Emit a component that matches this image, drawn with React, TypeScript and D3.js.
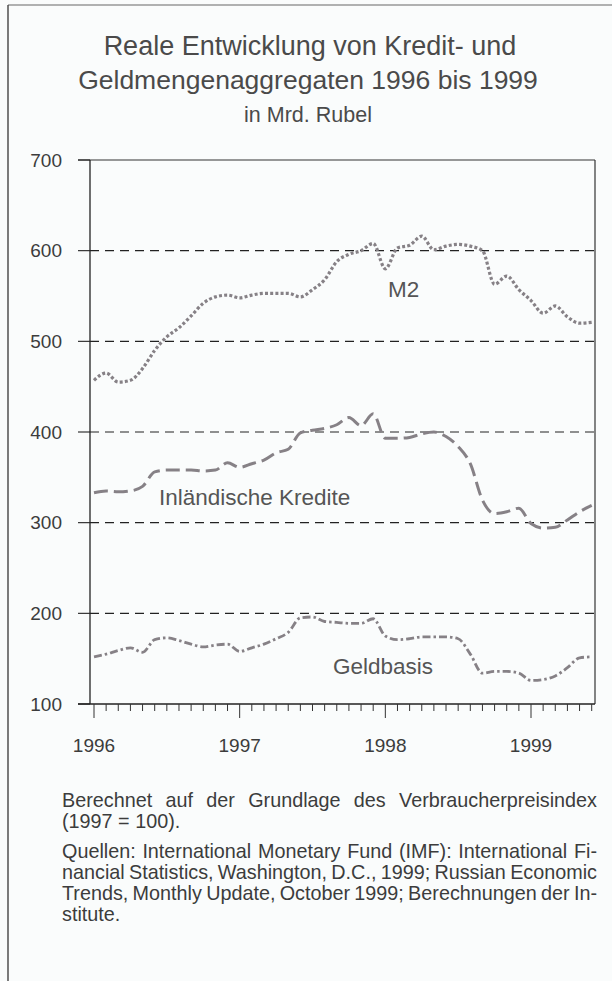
import React from 'react';
import { scaleLinear, line, curveMonotoneX, range } from 'd3';

// monthly values, Jan 1996 .. Jun 1999 (Mrd. Rubel, real)
const months = range(0, 42);
const yearLabels = ['1996', '1997', '1998', '1999'];
const yTicks = [100, 200, 300, 400, 500, 600, 700];
const gridValues = [200, 300, 400, 500, 600];

const m2 = [
  457, 465, 455, 457, 470, 490, 505, 515, 528, 542, 549, 551,
  548, 551, 553, 553, 553, 549, 557, 568, 588, 596, 600, 608,
  580, 603, 606, 616, 601, 605, 607, 605, 600, 563, 572, 557,
  545, 531, 539, 527, 520, 521,
];
const kredite = [
  333, 335, 334, 335, 340, 356, 358, 358, 358, 357, 358, 366,
  361, 365, 369, 377, 381, 399, 402, 404, 408, 416, 407, 420,
  393, 393, 394, 398, 400, 395, 384, 365, 325, 310, 312, 316,
  299, 294, 295, 303, 312, 319,
];
const geldbasis = [
  152, 155, 159, 162, 157, 171, 173, 170, 166, 163, 165, 166,
  158, 162, 166, 172, 179, 195, 196, 191, 190, 189, 189, 194,
  175, 171, 172, 174, 174, 174, 172, 155, 134, 136, 136, 134,
  126, 127, 131, 140, 151, 152,
];

const titleLines = [
  'Reale Entwicklung von Kredit- und',
  'Geldmengenaggregaten 1996 bis 1999',
];
const subtitle = 'in Mrd. Rubel';

const notes = [
  { text: 'Berechnet auf der Grundlage des Verbraucherpreisindex', justify: true },
  { text: '(1997 = 100).', justify: false },
  { text: 'Quellen: International Monetary Fund (IMF): International Fi-', justify: true },
  { text: 'nancial Statistics, Washington, D.C., 1999; Russian Economic', justify: true },
  { text: 'Trends, Monthly Update, October 1999; Berechnungen der In-', justify: true },
  { text: 'stitute.', justify: false },
];
const noteBaselines = [807, 828, 858, 879, 900, 921];

const W = 612;
const H = 981;
const plot = { left: 90, right: 595, top: 160, bottom: 704 };
const font = '"Liberation Sans", Arial, Helvetica, sans-serif';
const textColor = '#3c3c3c';
const seriesColor = '#868186';

const x = scaleLinear().domain([0, 36]).range([94, 531]);
const y = scaleLinear().domain([100, 700]).range([plot.bottom, plot.top]);

const path = line<number>()
  .x((d, i) => x(i))
  .y(d => y(d))
  .curve(curveMonotoneX);

let ctx: CanvasRenderingContext2D | null = null;
const measure = (s: string, size: number) => {
  if (!ctx) ctx = document.createElement('canvas').getContext('2d');
  ctx!.font = `${size}px "Liberation Sans"`;
  return ctx!.measureText(s).width;
};

const noteSize = 19.8;
const noteLeft = 62;
const noteRight = 597;

const JustifiedLine = ({ text, justify, yPos }) => {
  if (!justify) {
    return (
      <text x={noteLeft} y={yPos}>
        {text}
      </text>
    );
  }
  const words = text.split(' ');
  const widths = words.map(w => measure(w, noteSize));
  const total = widths.reduce((a, b) => a + b, 0);
  const gap = (noteRight - noteLeft - total) / (words.length - 1);
  let cx = noteLeft;
  return (
    <g>
      {words.map((w, i) => {
        const px = cx;
        cx += widths[i] + gap;
        return (
          <text key={i} x={px} y={yPos}>
            {w}
          </text>
        );
      })}
    </g>
  );
};

export default function App() {
  return (
    <svg
      width={W}
      height={H}
      style={{ position: 'absolute', left: 0, top: 0, background: '#fafcfc' }}
      fontFamily={font}>
      {/* page border */}
      <line x1={8} x2={612} y1={5} y2={5} stroke='#666' strokeWidth={1.2} />
      <line x1={8} x2={8} y1={5} y2={H} stroke='#444' strokeWidth={1.4} />

      <g fill='#4a4a4a' textAnchor='middle'>
        <text x={310} y={55} fontSize={27}>
          {titleLines[0]}
        </text>
        <text x={308} y={89} fontSize={26.5}>
          {titleLines[1]}
        </text>
        <text x={308} y={122} fontSize={21.5}>
          {subtitle}
        </text>
      </g>

      {/* grid */}
      {gridValues.map(v => (
        <line
          key={v}
          x1={plot.left}
          x2={plot.right}
          y1={y(v)}
          y2={y(v)}
          stroke='#222'
          strokeWidth={1.1}
          strokeDasharray='9,6'
        />
      ))}

      {/* frame */}
      <line x1={78} x2={plot.right} y1={plot.top} y2={plot.top} stroke='#333' strokeWidth={1.1} />
      <line x1={plot.right} x2={plot.right} y1={plot.top} y2={plot.bottom} stroke='#333' strokeWidth={1.2} />
      <line x1={plot.left} x2={plot.left} y1={plot.top} y2={plot.bottom} stroke='#222' strokeWidth={1.3} />
      <line x1={78} x2={plot.right} y1={plot.bottom} y2={plot.bottom} stroke='#222' strokeWidth={1.3} />

      {/* y ticks and labels */}
      {yTicks.map(v => (
        <g key={v}>
          <line x1={78} x2={plot.left} y1={y(v)} y2={y(v)} stroke='#222' strokeWidth={1.1} />
          <text x={62} y={y(v) + 6.5} fontSize={19} textAnchor='end' fill={textColor}>
            {v}
          </text>
        </g>
      ))}

      {/* x ticks */}
      {months.map(i => (
        <line
          key={i}
          x1={x(i)}
          x2={x(i)}
          y1={plot.bottom}
          y2={plot.bottom + (i % 12 === 0 ? 14 : 7)}
          stroke='#333'
          strokeWidth={1}
        />
      ))}
      {yearLabels.map((t, i) => (
        <text key={t} x={x(i * 12)} y={752} fontSize={19} textAnchor='middle' fill={textColor}>
          {t}
        </text>
      ))}

      {/* series */}
      <path
        d={path(m2) || ''}
        fill='none'
        stroke={seriesColor}
        strokeWidth={3.2}
        strokeDasharray='3,2.2'
      />
      <path
        d={path(kredite) || ''}
        fill='none'
        stroke={seriesColor}
        strokeWidth={3}
        strokeDasharray='14,6'
      />
      <path
        d={path(geldbasis) || ''}
        fill='none'
        stroke={seriesColor}
        strokeWidth={2.8}
        strokeDasharray='8,3,2.5,3'
      />

      <g fill='#555' fontSize={22.5}>
        <text x={388} y={297}>M2</text>
        <text x={159} y={505}>Inländische Kredite</text>
        <text x={333} y={674}>Geldbasis</text>
      </g>

      {/* notes */}
      <g fill={textColor} fontSize={noteSize}>
        {notes.map((n, i) => (
          <JustifiedLine key={i} text={n.text} justify={n.justify} yPos={noteBaselines[i]} />
        ))}
      </g>
    </svg>
  );
}
